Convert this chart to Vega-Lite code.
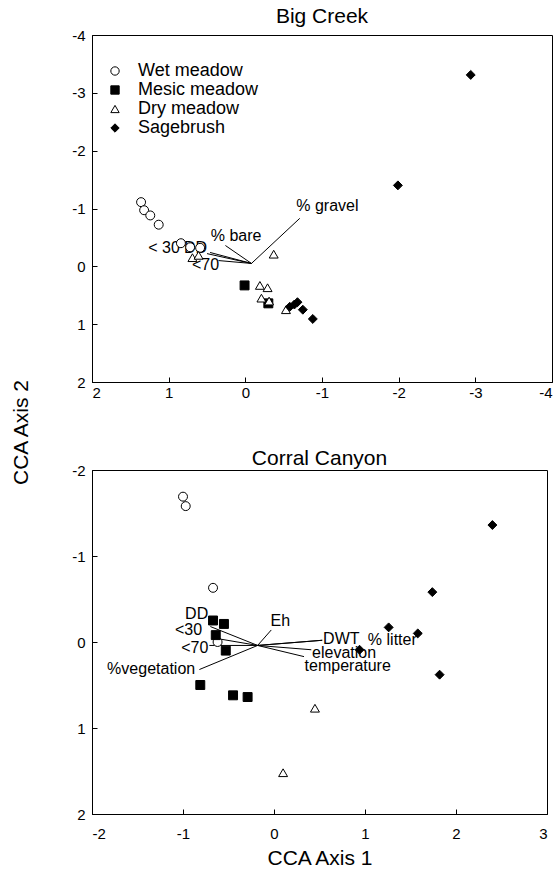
{
  "$schema": "https://vega.github.io/schema/vega-lite/v6.json",
  "background": "white",
  "padding": {"left": 9, "top": 5, "right": 2, "bottom": 2},
  "bounds": "flush",
  "spacing": 88,
  "config": {
    "font": "Liberation Sans",
    "view": {"stroke": "black", "strokeWidth": 1},
    "axis": {"grid": false, "domainColor": "black", "tickColor": "black", "labelColor": "black", "labelFontSize": 15, "labelFont": "Liberation Sans", "tickSize": -5, "labelPadding": 12, "titleColor": "black", "titleFontWeight": "normal", "titleFontSize": 21, "titleFont": "Liberation Sans", "labelExpr": "datum.value + ''"},
    "title": {"fontSize": 21, "fontWeight": "normal", "font": "Liberation Sans", "color": "black", "baseline": "alphabetic"},
    "text": {"font": "Liberation Sans", "fontSize": 16, "color": "black"}
  },
  "resolve": {"scale": {"shape": "independent", "fill": "independent", "stroke": "independent"}, "legend": {"shape": "independent", "fill": "independent", "stroke": "independent"}},
  "datasets": {
    "bc": [
      {"g": "Wet meadow", "x": 1.36, "y": -1.11},
      {"g": "Wet meadow", "x": 1.32, "y": -0.97},
      {"g": "Wet meadow", "x": 1.24, "y": -0.88},
      {"g": "Wet meadow", "x": 1.13, "y": -0.72},
      {"g": "Wet meadow", "x": 0.84, "y": -0.40},
      {"g": "Wet meadow", "x": 0.72, "y": -0.33},
      {"g": "Wet meadow", "x": 0.59, "y": -0.32},
      {"g": "Mesic meadow", "x": 0.01, "y": 0.33},
      {"g": "Mesic meadow", "x": -0.30, "y": 0.64},
      {"g": "Dry meadow", "x": 0.69, "y": -0.15},
      {"g": "Dry meadow", "x": 0.61, "y": -0.19},
      {"g": "Dry meadow", "x": -0.37, "y": -0.21},
      {"g": "Dry meadow", "x": -0.19, "y": 0.33},
      {"g": "Dry meadow", "x": -0.29, "y": 0.37},
      {"g": "Dry meadow", "x": -0.21, "y": 0.55},
      {"g": "Dry meadow", "x": -0.31, "y": 0.60},
      {"g": "Dry meadow", "x": -0.53, "y": 0.75},
      {"g": "Sagebrush", "x": -0.58, "y": 0.70},
      {"g": "Sagebrush", "x": -0.64, "y": 0.66},
      {"g": "Sagebrush", "x": -0.68, "y": 0.62},
      {"g": "Sagebrush", "x": -0.75, "y": 0.75},
      {"g": "Sagebrush", "x": -0.88, "y": 0.91},
      {"g": "Sagebrush", "x": -1.99, "y": -1.40},
      {"g": "Sagebrush", "x": -2.94, "y": -3.31}
    ],
    "bcv": [
      {"v": "% gravel", "x0": -0.08, "y0": -0.05, "x1": -0.71, "y1": -0.83, "lx": -1.07, "ly": -1.05},
      {"v": "% bare", "x0": -0.08, "y0": -0.05, "x1": 0.26, "y1": -0.36, "lx": 0.12, "ly": -0.53},
      {"v": "DD", "x0": -0.08, "y0": -0.05, "x1": 0.46, "y1": -0.24, "lx": 0.65, "ly": -0.31},
      {"v": "< 30", "x0": -0.08, "y0": -0.05, "x1": 0.50, "y1": -0.22, "lx": 1.06, "ly": -0.31},
      {"v": "<70", "x0": -0.08, "y0": -0.05, "x1": 0.35, "y1": -0.10, "lx": 0.52, "ly": -0.02}
    ],
    "cc": [
      {"g": "Wet meadow", "x": -1.00, "y": -1.69},
      {"g": "Wet meadow", "x": -0.97, "y": -1.58},
      {"g": "Wet meadow", "x": -0.67, "y": -0.63},
      {"g": "Wet meadow", "x": -0.62, "y": 0.00},
      {"g": "Mesic meadow", "x": -0.67, "y": -0.25},
      {"g": "Mesic meadow", "x": -0.55, "y": -0.21},
      {"g": "Mesic meadow", "x": -0.64, "y": -0.08},
      {"g": "Mesic meadow", "x": -0.53, "y": 0.10},
      {"g": "Mesic meadow", "x": -0.81, "y": 0.50},
      {"g": "Mesic meadow", "x": -0.45, "y": 0.62},
      {"g": "Mesic meadow", "x": -0.29, "y": 0.64},
      {"g": "Dry meadow", "x": 0.45, "y": 0.77},
      {"g": "Dry meadow", "x": 0.10, "y": 1.52},
      {"g": "Sagebrush", "x": 2.40, "y": -1.36},
      {"g": "Sagebrush", "x": 1.74, "y": -0.58},
      {"g": "Sagebrush", "x": 1.26, "y": -0.17},
      {"g": "Sagebrush", "x": 1.58, "y": -0.10},
      {"g": "Sagebrush", "x": 0.94, "y": 0.09},
      {"g": "Sagebrush", "x": 1.82, "y": 0.38}
    ],
    "ccv": [
      {"v": "Eh", "x0": -0.18, "y0": 0.04, "x1": -0.03, "y1": -0.14, "lx": 0.07, "ly": -0.24},
      {"v": "DWT", "x0": -0.18, "y0": 0.04, "x1": 0.53, "y1": -0.02, "lx": 0.74, "ly": -0.03},
      {"v": "% litter", "x0": -0.18, "y0": 0.04, "x1": 0.53, "y1": -0.02, "lx": 1.30, "ly": -0.02},
      {"v": "elevation", "x0": -0.18, "y0": 0.04, "x1": 0.41, "y1": 0.09, "lx": 0.77, "ly": 0.13},
      {"v": "temperature", "x0": -0.18, "y0": 0.04, "x1": 0.33, "y1": 0.17, "lx": 0.81, "ly": 0.28},
      {"v": "DD", "x0": -0.18, "y0": 0.04, "x1": -0.70, "y1": -0.18, "lx": -0.85, "ly": -0.32},
      {"v": "<30", "x0": -0.18, "y0": 0.04, "x1": -0.68, "y1": -0.05, "lx": -0.94, "ly": -0.14},
      {"v": "<70", "x0": -0.18, "y0": 0.04, "x1": -0.71, "y1": 0.04, "lx": -0.87, "ly": 0.07},
      {"v": "%vegetation", "x0": -0.18, "y0": 0.04, "x1": -0.82, "y1": 0.32, "lx": -1.35, "ly": 0.31}
    ]
  },
  "vconcat": [
    {
      "width": 460,
      "height": 347,
      "title": {"text": "Big Creek", "offset": 1.5},
      "layer": [
        {
          "data": {"name": "bcv"},
          "mark": {"type": "rule", "color": "black", "strokeWidth": 1},
          "encoding": {
            "x": {"field": "x0", "type": "quantitative", "scale": {"domain": [-4, 2], "reverse": true, "nice": false, "zero": false}, "axis": {"values": [-4, -3, -2, -1, 0, 1, 2], "title": null, "labelPadding": 8}},
            "y": {"field": "y0", "type": "quantitative", "scale": {"domain": [-4, 2], "reverse": true, "nice": false, "zero": false}, "axis": {"values": [-4, -3, -2, -1, 0, 1, 2], "title": "CCA Axis 2", "titleX": -65, "titleY": 397, "titleBaseline": "alphabetic", "titleAngle": 270, "titleAlign": "center"}},
            "x2": {"field": "x1"},
            "y2": {"field": "y1"}
          }
        },
        {
          "data": {"name": "bcv"},
          "mark": {"type": "text", "align": "center", "baseline": "middle"},
          "encoding": {
            "x": {"field": "lx", "type": "quantitative"},
            "y": {"field": "ly", "type": "quantitative"},
            "text": {"field": "v"}
          }
        },
        {
          "data": {"name": "bc"},
          "mark": {"type": "point", "filled": true, "strokeWidth": 1, "opacity": 1, "size": 80},
          "encoding": {
            "x": {"field": "x", "type": "quantitative"},
            "y": {"field": "y", "type": "quantitative"},
            "shape": {"field": "g", "type": "nominal", "scale": {"domain": ["Wet meadow", "Mesic meadow", "Dry meadow", "Sagebrush"], "range": ["circle", "square", "triangle-up", "diamond"]}, "legend": {"orient": "none", "legendX": 14, "legendY": 27, "title": null, "labelFontSize": 18, "labelFont": "Liberation Sans", "labelColor": "black", "symbolSize": 70, "rowPadding": 1, "labelOffset": 14, "padding": 0, "symbolStrokeWidth": 1}},
            "fill": {"field": "g", "type": "nominal", "scale": {"domain": ["Wet meadow", "Mesic meadow", "Dry meadow", "Sagebrush"], "range": ["white", "black", "white", "black"]}, "legend": {"orient": "none", "legendX": 14, "legendY": 27, "title": null, "labelFontSize": 18, "labelFont": "Liberation Sans", "labelColor": "black", "symbolSize": 70, "rowPadding": 1, "labelOffset": 14, "padding": 0, "symbolStrokeWidth": 1}},
            "stroke": {"field": "g", "type": "nominal", "scale": {"domain": ["Wet meadow", "Mesic meadow", "Dry meadow", "Sagebrush"], "range": ["black", "black", "black", "black"]}, "legend": {"orient": "none", "legendX": 14, "legendY": 27, "title": null, "labelFontSize": 18, "labelFont": "Liberation Sans", "labelColor": "black", "symbolSize": 70, "rowPadding": 1, "labelOffset": 14, "padding": 0, "symbolStrokeWidth": 1}}
          }
        }
      ]
    },
    {
      "width": 455,
      "height": 344,
      "title": {"text": "Corral Canyon", "offset": 0, "dy": 5.5},
      "layer": [
        {
          "data": {"name": "ccv"},
          "mark": {"type": "rule", "color": "black", "strokeWidth": 1},
          "encoding": {
            "x": {"field": "x0", "type": "quantitative", "scale": {"domain": [-2, 3], "nice": false, "zero": false}, "axis": {"values": [-2, -1, 0, 1, 2, 3], "title": "CCA Axis 1", "labelPadding": 17, "titlePadding": 6}},
            "y": {"field": "y0", "type": "quantitative", "scale": {"domain": [-2, 2], "reverse": true, "nice": false, "zero": false}, "axis": {"values": [-2, -1, 0, 1, 2], "title": null}},
            "x2": {"field": "x1"},
            "y2": {"field": "y1"}
          }
        },
        {
          "data": {"name": "ccv"},
          "mark": {"type": "text", "align": "center", "baseline": "middle"},
          "encoding": {
            "x": {"field": "lx", "type": "quantitative"},
            "y": {"field": "ly", "type": "quantitative"},
            "text": {"field": "v"}
          }
        },
        {
          "data": {"name": "cc"},
          "mark": {"type": "point", "filled": true, "strokeWidth": 1, "opacity": 1, "size": 80},
          "encoding": {
            "x": {"field": "x", "type": "quantitative"},
            "y": {"field": "y", "type": "quantitative"},
            "shape": {"field": "g", "type": "nominal", "scale": {"domain": ["Wet meadow", "Mesic meadow", "Dry meadow", "Sagebrush"], "range": ["circle", "square", "triangle-up", "diamond"]}, "legend": null},
            "fill": {"field": "g", "type": "nominal", "scale": {"domain": ["Wet meadow", "Mesic meadow", "Dry meadow", "Sagebrush"], "range": ["white", "black", "white", "black"]}, "legend": null},
            "stroke": {"field": "g", "type": "nominal", "scale": {"domain": ["Wet meadow", "Mesic meadow", "Dry meadow", "Sagebrush"], "range": ["black", "black", "black", "black"]}, "legend": null}
          }
        }
      ]
    }
  ]
}
